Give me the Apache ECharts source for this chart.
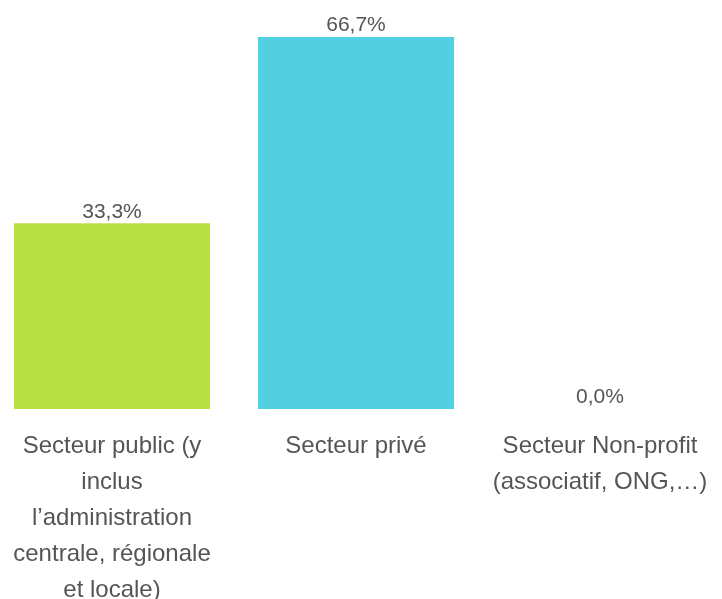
<!DOCTYPE html>
<html>
<head>
<meta charset="utf-8">
<script src="https://cdn.jsdelivr.net/npm/echarts@6/dist/echarts.min.js"></script>
<style>
  html, body { margin: 0; padding: 0; background: #fff; }
  #chart { width: 722px; height: 599px; }
</style>
</head>
<body>
<div id="chart"></div>
<script>
// categories (line breaks as in the reference)
const categories = [
  'Secteur public (y\ninclus\nl\u2019administration\ncentrale, r\u00e9gionale\net locale)',
  'Secteur priv\u00e9',
  'Secteur Non-profit\n(associatif, ONG,\u2026)'
];
const values = [33.3, 66.7, 0.0];
const barColors = ['#b9e043', '#52cfe0', '#f2a33a'];

let myChart = echarts.init(document.getElementById('chart'));
let option = {
  backgroundColor: '#fff',
  animation: false,
  grid: {
    left: -10,
    right: 0,
    top: 37,
    bottom: 190,
    containLabel: false,
    outerBoundsMode: 'none'
  },
  xAxis: {
    type: 'category',
    data: categories,
    axisTick: { show: false },
    axisLine: { show: false },
    axisLabel: {
      interval: 0,
      margin: 19,
      fontFamily: 'Liberation Sans, Arial, sans-serif',
      fontSize: 24,
      lineHeight: 36,
      color: '#555'
    }
  },
  yAxis: {
    type: 'value',
    min: 0,
    max: 66.7,
    show: false,
    splitLine: { show: false }
  },
  series: [
    {
      type: 'bar',
      barWidth: 196,
      data: values.map((v, i) => ({ value: v, itemStyle: { color: barColors[i] } })),
      label: {
        show: true,
        position: 'top',
        distance: 1,
        fontFamily: 'Liberation Sans, Arial, sans-serif',
        fontSize: 21,
        color: '#555',
        formatter: p => p.value.toFixed(1).replace('.', ',') + '%'
      }
    }
  ]
};
myChart.setOption(option);
window.onresize = function () {
  myChart.resize();
};
</script>
</body>
</html>
